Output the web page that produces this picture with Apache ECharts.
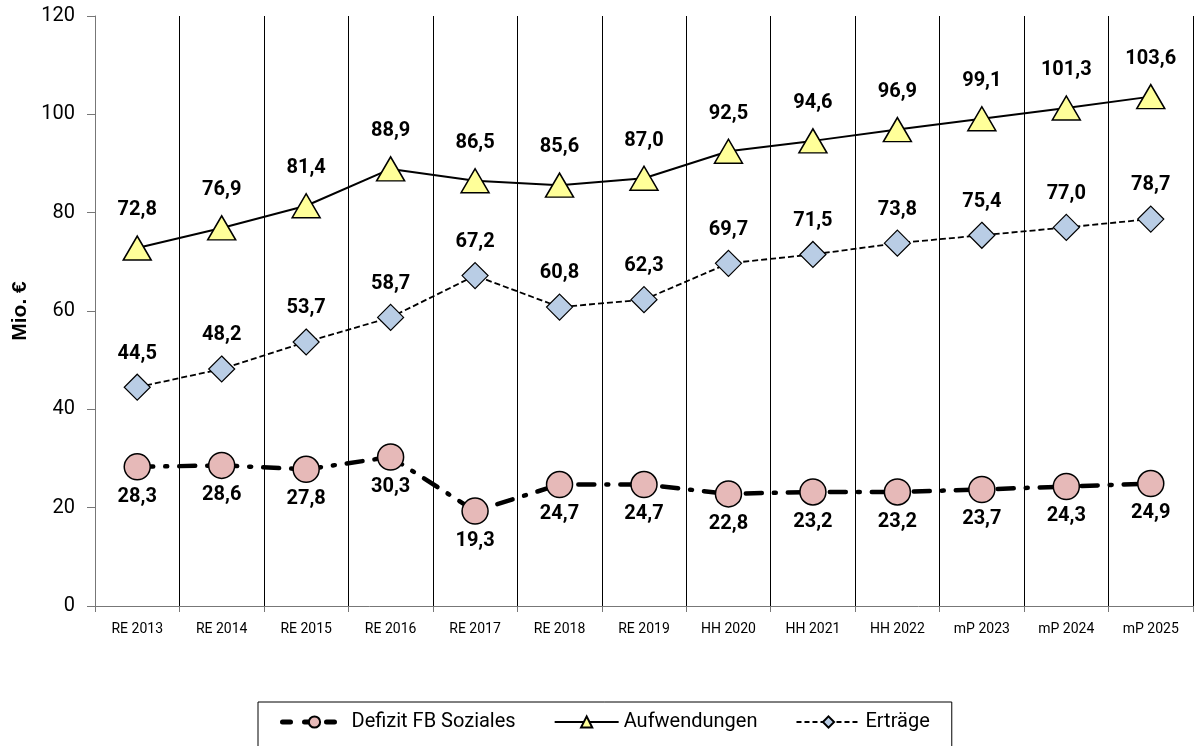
<!DOCTYPE html>
<html>
<head>
<meta charset="utf-8">
<script src="https://cdn.jsdelivr.net/npm/echarts@6/dist/echarts.min.js"></script>
<style>
  html, body { margin: 0; padding: 0; background: #fff; }
  #chart { width: 1199px; height: 746px; }
</style>
</head>
<body>
<div id="chart"></div>
<script>
const years = ['RE 2013', 'RE 2014', 'RE 2015', 'RE 2016', 'RE 2017', 'RE 2018', 'RE 2019',
  'HH 2020', 'HH 2021', 'HH 2022', 'mP 2023', 'mP 2024', 'mP 2025'];
const defizit = [28.3, 28.6, 27.8, 30.3, 19.3, 24.7, 24.7, 22.8, 23.2, 23.2, 23.7, 24.3, 24.9];
const aufwendungen = [72.8, 76.9, 81.4, 88.9, 86.5, 85.6, 87.0, 92.5, 94.6, 96.9, 99.1, 101.3, 103.6];
const ertraege = [44.5, 48.2, 53.7, 58.7, 67.2, 60.8, 62.3, 69.7, 71.5, 73.8, 75.4, 77.0, 78.7];

const fmt = function (p) { return p.value.toFixed(1).replace('.', ','); };
const labelFont = { fontFamily: 'Roboto', fontWeight: 'bold', fontSize: 20, color: '#000' };

const myChart = echarts.init(document.getElementById('chart'));
myChart.setOption({
  animation: false,
  grid: { left: 95, right: 6, top: 16, bottom: 140 },
  legend: {
    left: 258,
    top: 702,
    padding: [10, 22, 40, 22],
    borderColor: '#000',
    borderWidth: 1,
    itemGap: 38,
    itemWidth: 64,
    itemHeight: 14,
    textStyle: { fontFamily: 'Roboto', fontSize: 20, color: '#000' },
    data: [
      { name: 'Defizit FB Soziales', lineStyle: { color: '#000', width: 5, type: [8, 14] } },
      { name: 'Aufwendungen', lineStyle: { color: '#000', width: 2 } },
      { name: 'Erträge', lineStyle: { color: '#000', width: 2, type: [5, 3] } }
    ]
  },
  xAxis: {
    type: 'category',
    data: years,
    boundaryGap: true,
    axisLine: { lineStyle: { color: '#777', width: 1 } },
    axisTick: { show: true, length: 6, lineStyle: { color: '#777' } },
    axisLabel: { fontFamily: 'Roboto', fontSize: 14, color: '#000', margin: 16 },
    splitLine: { show: true, lineStyle: { color: '#000', width: 1 } }
  },
  yAxis: {
    type: 'value',
    min: 0,
    max: 120,
    interval: 20,
    name: 'Mio. €',
    nameLocation: 'middle',
    nameGap: 64,
    nameRotate: 90,
    nameTextStyle: { fontFamily: 'Liberation Sans', fontWeight: 'bold', fontSize: 21, color: '#000' },
    axisLine: { show: true, lineStyle: { color: '#777' } },
    axisTick: { show: true, inside: false, length: 8, lineStyle: { color: '#777' } },
    axisLabel: { fontFamily: 'Roboto', fontSize: 20, color: '#000', margin: 20 },
    splitLine: { show: false }
  },
  series: [
    {
      name: 'Defizit FB Soziales',
      type: 'line',
      data: defizit,
      symbol: 'circle',
      symbolSize: 26,
      itemStyle: { color: '#e6b9b8', borderColor: '#000', borderWidth: 1.5 },
      lineStyle: { color: '#000', width: 4.5, type: [16, 12, 2, 12], cap: 'round' },
      label: Object.assign({ show: true, position: 'bottom', distance: 6, formatter: fmt }, labelFont),
      z: 3
    },
    {
      name: 'Aufwendungen',
      type: 'line',
      data: aufwendungen,
      symbol: 'triangle',
      symbolSize: [28, 24],
      itemStyle: { color: '#ffff99', borderColor: '#000', borderWidth: 1.5 },
      lineStyle: { color: '#000', width: 2 },
      label: Object.assign({ show: true, position: 'top', distance: 15, formatter: fmt }, labelFont),
      z: 3
    },
    {
      name: 'Erträge',
      type: 'line',
      data: ertraege,
      symbol: 'diamond',
      symbolSize: [26, 26],
      itemStyle: { color: '#b9cde5', borderColor: '#000', borderWidth: 1.2 },
      lineStyle: { color: '#000', width: 1.8, type: [6, 3] },
      label: Object.assign({ show: true, position: 'top', distance: 10, formatter: fmt }, labelFont),
      z: 3
    }
  ]
});
window.addEventListener('resize', () => { myChart.resize(); });
</script>
</body>
</html>
